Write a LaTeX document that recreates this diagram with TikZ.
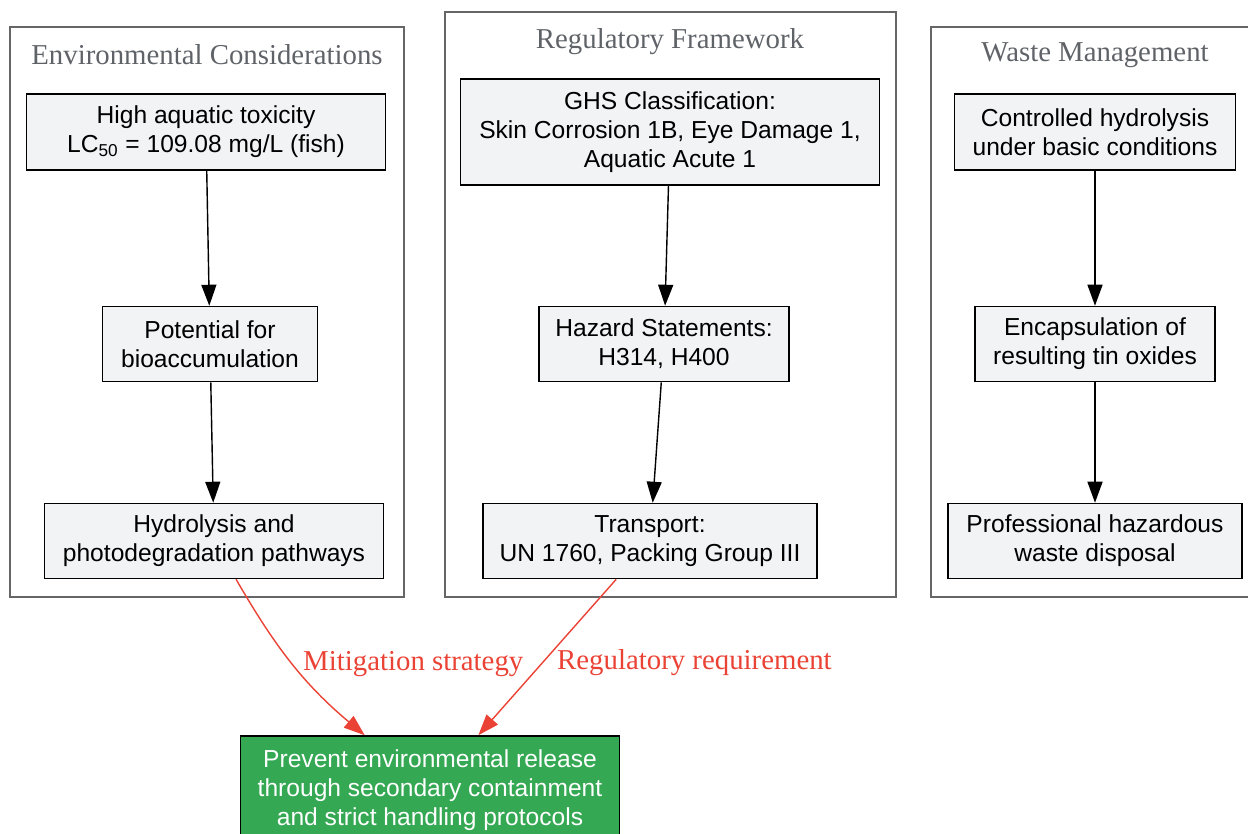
\documentclass[tikz,border=0pt]{standalone}
\usepackage{fontspec}
\setmainfont{Liberation Serif}
\newfontfamily\boxfont{Liberation Sans}
\usepackage{tikz}
\usetikzlibrary{arrows.meta, positioning}
\definecolor{boxgray}{HTML}{F1F3F4}
\definecolor{clustergray}{HTML}{666666}
\definecolor{labelgray}{HTML}{5F6368}
\definecolor{edgered}{HTML}{EA4335}
\definecolor{okgreen}{HTML}{34A853}

\begin{document}
\begin{tikzpicture}[x=0.02cm, y=0.02cm,
  box/.style={draw=black, line width=0.9pt, fill=boxgray, align=center,
              inner sep=0pt, font=\boxfont\fontsize{14}{16.4}\selectfont},
  goal/.style={box, fill=okgreen, text=white},
  cluster/.style={draw=clustergray, line width=0.75pt},
  clusterlabel/.style={text=labelgray, font=\fontsize{16.4}{19}\selectfont},
  flow/.style={-{Triangle[length=0.42cm, width=0.3cm]}, line width=0.8pt, black},
  link/.style={-{Triangle[length=0.42cm, width=0.3cm]}, line width=0.8pt, edgered},
  linklabel/.style={text=edgered, font=\fontsize{16.4}{19}\selectfont, inner sep=0pt}]
\useasboundingbox (0,0) rectangle (1248,-833);
%
% clusters
\draw[cluster] (10,-27) rectangle (404,-597);
\node[clusterlabel] (envlabel) at (207,-55) {Environmental Considerations};
\draw[cluster] (445,-12) rectangle (896,-597);
\node[clusterlabel] (reglabel) at (670,-42) {Regulatory Framework};
\draw[cluster] (931,-27) rectangle (1262,-597);
\node[clusterlabel] (wastelabel) at (1095,-55) {Waste Management};
%
% environmental considerations
\node[box, minimum width=7.18cm, minimum height=1.52cm] (tox) at (206,-132)
  {High aquatic toxicity\\LC\textsubscript{50} = 109.08 mg/L (fish)};
\node[box, minimum width=4.30cm, minimum height=1.50cm] (bioacc) at (210,-344)
  {Potential for\\bioaccumulation};
\node[box, minimum width=6.78cm, minimum height=1.50cm] (degrad) at (214,-541)
  {Hydrolysis and\\photodegradation pathways};
%
% regulatory framework
\node[box, minimum width=8.38cm, minimum height=2.12cm] (ghs) at (670,-132)
  {GHS Classification:\\Skin Corrosion 1B, Eye Damage 1,\\Aquatic Acute 1};
\node[box, minimum width=5.00cm, minimum height=1.50cm] (hazard) at (664,-344)
  {Hazard Statements:\\H314, H400};
\node[box, minimum width=6.68cm, minimum height=1.50cm] (transport) at (650,-541)
  {Transport:\\UN 1760, Packing Group III};
%
% waste management
\node[box, minimum width=5.62cm, minimum height=1.52cm] (hydro) at (1095,-132)
  {Controlled hydrolysis\\under basic conditions};
\node[box, minimum width=4.80cm, minimum height=1.50cm] (encaps) at (1095,-344)
  {Encapsulation of\\resulting tin oxides};
\node[box, minimum width=5.88cm, minimum height=1.50cm] (disposal) at (1095,-541)
  {Professional hazardous\\waste disposal};
%
\node[goal, minimum width=7.58cm, minimum height=2.16cm] (prevent) at (430,-790)
  {Prevent environmental release\\through secondary containment\\and strict handling protocols};
%
\draw[flow] (tox) -- (bioacc);
\draw[flow] (bioacc) -- (degrad);
\draw[flow] (ghs) -- (hazard);
\draw[flow] (hazard) -- (transport);
\draw[flow] (hydro) -- (encaps);
\draw[flow] (encaps) -- (disposal);
%
\draw[link] (degrad) to[out=-60, in=140]
  node[linklabel, pos=0.5, anchor=west, xshift=0.2cm] {Mitigation strategy} (prevent);
\draw[link] (transport) --
  node[linklabel, pos=0.52, anchor=west, xshift=0.24cm, yshift=-0.04cm] {Regulatory requirement} (prevent);
\end{tikzpicture}
\end{document}
